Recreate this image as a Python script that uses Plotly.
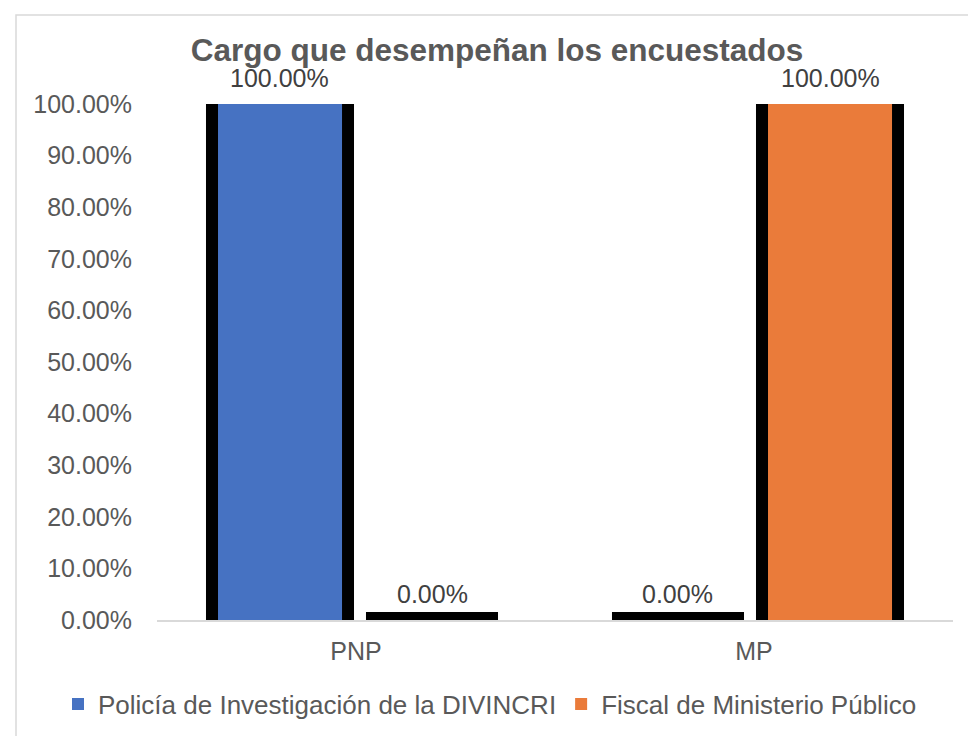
import plotly.graph_objects as go

categories = ["PNP", "MP"]
series_names = ["Policía de Investigación de la DIVINCRI", "Fiscal de Ministerio Público"]
policia_values = [1.0, 0.0]
fiscal_values = [0.0, 1.0]
y_tick_values = [0, 0.1, 0.2, 0.3, 0.4, 0.5, 0.6, 0.7, 0.8, 0.9, 1.0]

series_values = [policia_values, fiscal_values]
colors = ["#4672C2", "#EA7B3A"]

# geometry (category units; 1 unit = category spacing)
frame_offsets = [-0.3568, 0.0251]
frame_width = 0.3317
fill_offsets = [-0.3467, 0.0352]
fill_width = 0.3116
label_offsets = [-0.191, 0.191]

fig = go.Figure()
x_idx = list(range(len(categories)))

for i, vals in enumerate(series_values):
    fig.add_trace(go.Bar(
        x=x_idx, y=vals, offset=frame_offsets[i], width=frame_width,
        marker=dict(color="#000000", line=dict(color="#000000", width=16)),
        showlegend=False, hoverinfo="skip",
    ))

for i, vals in enumerate(series_values):
    fig.add_trace(go.Bar(
        x=x_idx, y=vals, offset=fill_offsets[i], width=fill_width,
        name=series_names[i],
        marker=dict(color=colors[i], line=dict(width=0)),
    ))

annotations = []
for i, vals in enumerate(series_values):
    for j, v in enumerate(vals):
        annotations.append(dict(
            x=j + label_offsets[i], y=v, xref="x", yref="y",
            text="{:.2%}".format(v), showarrow=False,
            yanchor="bottom", yshift=10,
            font=dict(family="Liberation Sans, Arial, sans-serif", size=25, color="#404040"),
        ))

fig.update_layout(
    width=968, height=736,
    barmode="overlay",
    paper_bgcolor="white", plot_bgcolor="white",
    margin=dict(l=157, r=15, t=104, b=116, autoexpand=False),
    font=dict(family="Liberation Sans, Arial, sans-serif", size=24, color="#595959"),
    title=dict(
        text="<b>Cargo que desempeñan los encuestados</b>",
        x=497 / 968, xref="container", xanchor="center",
        y=1 - 50 / 736, yref="container", yanchor="middle",
        font=dict(family="Liberation Sans, Arial, sans-serif", size=31.5, color="#595959"),
    ),
    xaxis=dict(
        tickmode="array", tickvals=x_idx, ticktext=categories,
        range=[-0.5, len(categories) - 0.5],
        showgrid=False, zeroline=False,
        showline=True, linecolor="#D9D9D9", linewidth=2,
        ticks="", ticklabelstandoff=8,
        tickfont=dict(size=25, color="#595959"),
    ),
    yaxis=dict(
        range=[0, 1], tickvals=y_tick_values, tickformat=".2%",
        showgrid=False, zeroline=False, showline=False,
        ticks="", ticklabelstandoff=24,
        tickfont=dict(size=25, color="#595959"),
    ),
    legend=dict(
        orientation="h", xref="paper", x=(58 - 157) / 796, xanchor="left",
        yref="paper", y=(620 - 704) / 516, yanchor="middle",
        font=dict(size=26, color="#595959"),
        traceorder="normal",
    ),
    annotations=annotations,
    shapes=[dict(
        type="rect", xref="paper", yref="paper",
        x0=(16 - 157) / 796, x1=1.05, y0=-0.3, y1=(620 - 15) / 516,
        line=dict(color="#D9D9D9", width=1.5), fillcolor="rgba(0,0,0,0)",
        layer="below",
    )],
)

fig.write_html("out.html", config={"displayModeBar": False},
               post_script="document.body.style.margin='0';")
